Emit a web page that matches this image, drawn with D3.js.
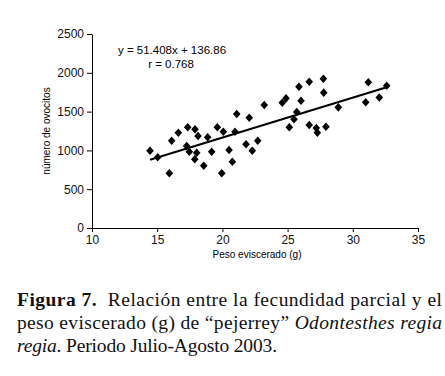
<html>
<head>
<script src="https://cdnjs.cloudflare.com/ajax/libs/d3/7.8.5/d3.min.js"></script>
<style>
  body { margin: 0; background: #fff; }
  .tick text { font-family: "Liberation Sans", Arial, sans-serif; font-size: 12px; fill: #111; }
</style>
</head>
<body>
<svg id="chart" width="445" height="376"></svg>
<script>
// peso eviscerado (g)
const peso = [14.45, 15.04, 15.93, 16.11, 16.62, 17.34, 17.90, 18.13, 17.26, 17.46,
              18.03, 17.88, 18.57, 18.87, 19.18, 19.61, 20.07, 19.95, 20.51, 20.76,
              20.97, 21.81, 22.29, 22.71, 21.10, 22.06, 23.21, 24.59, 24.88, 25.87,
              26.03, 26.66, 27.74, 27.77, 28.89, 25.70, 25.49, 25.13, 26.66, 27.20,
              27.28, 27.94, 31.19, 30.99, 32.03, 32.60];
// numero de ovocitos
const ovocitos = [996, 911, 705, 1125, 1228, 1298, 1272, 1186, 1057, 983,
                  970, 885, 803, 1169, 983, 1298, 1241, 705, 1005, 854,
                  1241, 1079, 996, 1125, 1469, 1421, 1585, 1615, 1671, 1821,
                  1640, 1885, 1924, 1744, 1555, 1495, 1401, 1298, 1327, 1289,
                  1228, 1305, 1878, 1620, 1682, 1834];
const slope = 51.408, intercept = 136.86;
const xTicks = [10, 15, 20, 25, 30, 35];
const yTicks = [0, 500, 1000, 1500, 2000, 2500];

const svg = d3.select("#chart");
const x = d3.scaleLinear().domain([10, 35]).range([92, 418]);
const y = d3.scaleLinear().domain([0, 2500]).range([228, 34]);

svg.append("g").attr("transform", "translate(0,228)")
   .call(d3.axisBottom(x).tickValues(xTicks).tickFormat(d3.format("d"))
           .tickSize(4).tickSizeOuter(0).tickPadding(3))
   .call(g => g.selectAll("path,line").attr("stroke", "#000"));
svg.append("g").attr("transform", "translate(92,0)")
   .call(d3.axisLeft(y).tickValues(yTicks).tickFormat(d3.format("d"))
           .tickSize(5).tickSizeOuter(0).tickPadding(3))
   .call(g => g.selectAll("path,line").attr("stroke", "#000"));

// regression line
const xr = d3.extent(peso);
svg.append("line")
   .attr("x1", x(xr[0])).attr("y1", y(slope * xr[0] + intercept))
   .attr("x2", x(xr[1])).attr("y2", y(slope * xr[1] + intercept))
   .attr("stroke", "#000").attr("stroke-width", 2);

// diamonds
const pts = peso.map((p, i) => ({p: p, o: ovocitos[i]}));
svg.append("g").selectAll("path").data(pts).join("path")
   .attr("d", d => {
       const cx = x(d.p), cy = y(d.o);
       return `M${cx},${cy-4.3}L${cx+3.8},${cy}L${cx},${cy+4.3}L${cx-3.8},${cy}Z`;
   })
   .attr("fill", "#000");

const sans = "'Liberation Sans', Arial, sans-serif";
svg.append("text").attr("x", 172).attr("y", 54).attr("text-anchor", "middle")
   .style("font-family", sans).style("font-size", "11.5px").text("y = 51.408x + 136.86");
svg.append("text").attr("x", 171).attr("y", 68).attr("text-anchor", "middle")
   .style("font-family", sans).style("font-size", "11.5px").text("r = 0.768");

svg.append("text").attr("x", 257).attr("y", 258).attr("text-anchor", "middle")
   .style("font-family", sans).style("font-size", "10px").text("Peso eviscerado (g)");
svg.append("text").attr("transform", "translate(50,131) rotate(-90)").attr("text-anchor", "middle")
   .style("font-family", sans).style("font-size", "10px").text("número de ovocitos");

// caption
const serif = "'Liberation Serif', 'Times New Roman', serif";
const cap = svg.append("g").style("font-family", serif).style("font-size", "19.5px").style("fill", "#111");
const l1 = cap.append("text").attr("x", 17).attr("y", 306)
   .attr("textLength", 425).attr("lengthAdjust", "spacing");
l1.append("tspan").style("font-weight", "bold").text("Figura 7.");
l1.append("tspan").text("\u00a0 Relación entre la fecundidad parcial y el");
const l2 = cap.append("text").attr("x", 17).attr("y", 329)
   .attr("textLength", 425).attr("lengthAdjust", "spacing");
l2.append("tspan").text("peso eviscerado (g) de “pejerrey” ");
l2.append("tspan").style("font-style", "italic").text("Odontesthes regia");
const l3 = cap.append("text").attr("x", 17).attr("y", 352)
   .attr("textLength", 260).attr("lengthAdjust", "spacing");
l3.append("tspan").style("font-style", "italic").text("regia");
l3.append("tspan").text(". Periodo Julio-Agosto 2003.");
</script>
</body>
</html>
